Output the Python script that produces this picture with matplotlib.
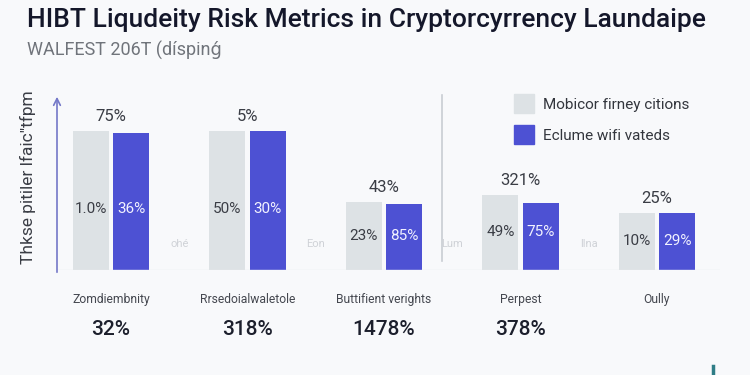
import matplotlib
matplotlib.use('Agg')
import matplotlib.pyplot as plt
import numpy as np
from matplotlib.patches import Patch, FancyArrowPatch
from matplotlib.lines import Line2D

plt.rcParams['font.family'] = ['Roboto', 'DejaVu Sans']

# datos
categorias = ['Zomdiembnity', 'Rrsedoialwaletole', 'Buttifient verights', 'Perpest', 'Oully']
gris = [79.4, 79.4, 38.9, 42.9, 32.6]
azul = [78.3, 79.4, 37.7, 38.3, 32.6]
etiq_sup = ['75%', '5%', '43%', '321%', '25%']
etiq_gris = ['1.0%', '50%', '23%', '49%', '10%']
etiq_azul = ['36%', '30%', '85%', '75%', '29%']
etiq_tenues = ['ohé', 'Eon', 'Lum', 'llna']
valores_abajo = ['32%', '318%', '1478%', '378%', '']
leyenda = ['Mobicor firney citions', 'Eclume wifi vateds']

c_gris = '#dde2e5'
c_azul = '#4d51d3'
fondo = '#f8f9fb'

fig = plt.figure(figsize=(7.5, 3.75), dpi=100, facecolor=fondo)
ax = fig.add_axes([57/750, 1-270/375, (720-57)/750, 175/375])
ax.set_facecolor(fondo)

x = np.arange(len(categorias))
w = 0.264
off = 0.147
ax.bar(x - off, gris, w, color=c_gris)
ax.bar(x + off, azul, w, color=c_azul)

ax.set_xlim(-0.396, 4.462)
ax.set_ylim(0, 100)
ax.axis('off')
ax.axhline(0, color='#e8ebef', lw=1)

for i in x:
    top = max(gris[i], azul[i])
    ax.text(i, top + 4, etiq_sup[i], ha='center', va='bottom', fontsize=12, color='#3a3d45')
    yi = gris[i] * 0.5 - 5 if gris[i] > 60 else gris[i] * 0.5
    ax.text(i - off, yi, etiq_gris[i], ha='center', va='center', fontsize=11, color='#3a3d45')
    ax.text(i + off, yi, etiq_azul[i], ha='center', va='center', fontsize=11, color='#f2f2ff')
    ax.text(i, -17, categorias[i], ha='center', va='center', fontsize=8.7, color='#44474f')
    ax.text(i, -34, valores_abajo[i], ha='center', va='center', fontsize=15,
            fontweight='medium', color='#1c1f2c')

for i, t in enumerate(etiq_tenues):
    ax.text(i + 0.5, 15, t, ha='center', va='center', fontsize=8, color='#cfd2d7')

# linea separadora
ax.plot([2.425, 2.425], [5, 100], color='#c9cdd3', lw=1.2, clip_on=False)

# eje con flecha
fig.add_artist(FancyArrowPatch((57/750, 1-275/375), (57/750, 1-94/375),
               transform=fig.transFigure, arrowstyle='->', mutation_scale=12,
               color='#7478c8', lw=1.2))

fig.text(28/750, 1-177/375, 'Thkse pitiler lfaic"tfpm', rotation=90, ha='center', va='center',
         fontsize=12.5, color='#3a3d45')

fig.text(27/750, 1-20/375, 'HIBT Liqudeity Risk Metrics in Cryptorcyrrency Laundaipe',
         ha='left', va='center', fontsize=19, fontweight='medium', color='#14172a')
fig.text(27/750, 1-50/375, 'WALFEST 206T (díspinǵ', ha='left', va='center',
         fontsize=13, color='#70747b')

handles = [Patch(color=c_gris), Patch(color=c_azul)]
fig.legend(handles, leyenda, loc='upper left', bbox_to_anchor=(500/750, 1-80/375),
           frameon=False, fontsize=11, handlelength=1.3, handleheight=1.6,
           labelspacing=0.75, handletextpad=0.6, labelcolor='#33363d')

fig.add_artist(Line2D([713/750, 713/750], [0, 9/375], color='#2f7d86', lw=2.5))

fig.savefig('out.png', dpi=100, facecolor=fondo)
